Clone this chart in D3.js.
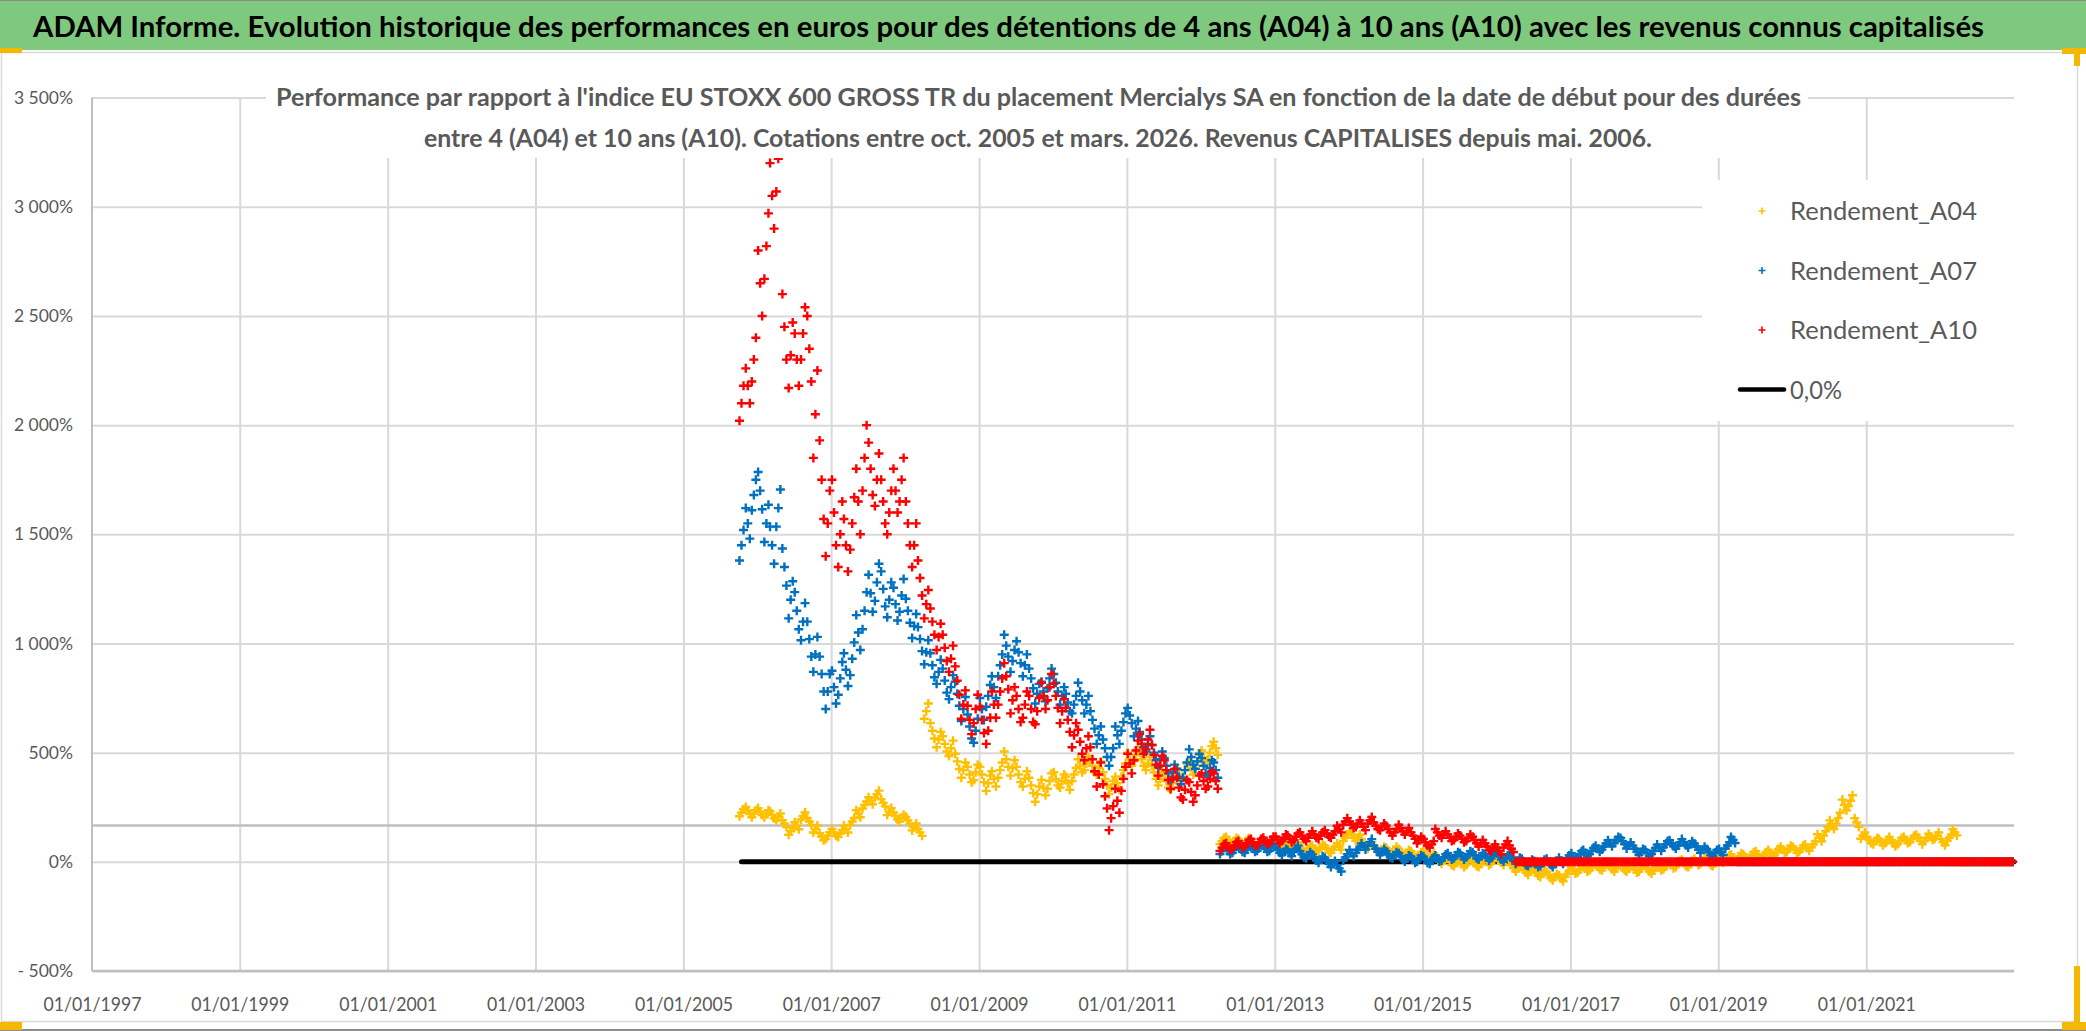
<!DOCTYPE html>
<html>
<head>
<meta charset="utf-8">
<script src="https://cdn.jsdelivr.net/npm/d3@7"></script>
<style>
    body { margin: 0; background: #fff; }
    svg text { font-family: Lato, "Open Sans", "Liberation Sans", sans-serif; }
</style>
</head>
<body>
<svg id="chart" width="2086" height="1031"></svg>
<script>
// series names and colours, monthly values (in %)
const seriesNames = ['Rendement_A04', 'Rendement_A07', 'Rendement_A10'];
const seriesColors = ['#FFC000', '#0070C0', '#FF0000'];
const firstMonth = '2005-10';

// monthly centre of each band
const a04Values = [
    225, 235, 220,                                                   // 2005
    230, 220, 215, 205, 175, 140, 165, 210, 185, 150, 115, 120,      // 2006
    135, 130, 150, 185, 220, 260, 280, 310, 270, 230, 210, 200,      // 2007
    190, 160, 135, 690, 600, 560, 540, 520, 460, 420, 400, 410,      // 2008
    400, 360, 380, 420, 470, 430, 400, 380, 350, 310, 340, 370,      // 2009
    380, 370, 360, 400, 440, 450, 440, 430, 380, 340, 360, 420,      // 2010
    470, 490, 470, 450, 410, 380, 370, 360, 400, 420, 430, 460,      // 2011
    480, 500, 520, 95, 100, 95, 90, 95, 85, 80, 85, 80,              // 2012
    75, 70, 80, 70, 60, 55, 60, 65, 60, 55, 70, 110,                 // 2013
    125, 110, 90, 75, 60, 55, 50, 55, 45, 40, 35, 30,                // 2014
    35, 25, 15, 5, 0, -5, -10, 0, -5, -10, 0, 5,                     // 2015
    10, 0, -15, -30, -35, -45, -50, -55, -60, -70, -75, -55,         // 2016
    -40, -35, -30, -25, -20, -25, -20, -30, -25, -30, -35, -30,      // 2017
    -30, -40, -25, -20, -15, -10, -5, -10, 0, 5, 0, -5,              // 2018
    10, 15, 20, 25, 20, 30, 35, 30, 40, 45, 55, 60,                  // 2019
    55, 60, 65, 80, 110, 140, 170, 200, 260, 280, 180, 120,          // 2020
    100, 95, 90, 100, 85, 95, 100, 105, 110, 95, 115, 120,           // 2021
    90, 110, 135, 0, 0, 0, 0, 0, 0, 0, 0, 0                          // 2022
];

const a07Values = [
    1450, 1550, 1680,
    1700, 1550, 1450, 1620, 1350, 1200, 1150, 1100, 1020, 950, 860, 780,
    800, 840, 880, 930, 1050, 1150, 1230, 1280, 1250, 1200, 1180, 1220,
    1150, 1080, 1020, 960, 900, 870, 830, 800, 770, 700, 620, 600,
    700, 760, 800, 900, 990, 920, 960, 900, 840, 770, 780, 840,
    820, 760, 730, 720, 780, 720, 650, 580, 520, 480, 580, 640,
    670, 610, 560, 540, 500, 470, 440, 410, 390, 420, 480, 460,
    440, 430, 420, 50, 50, 55, 60, 55, 60, 65, 60, 65,
    55, 45, 40, 60, 35, 30, 20, 10, 5, -10, -30, 20,
    40, 55, 70, 90, 60, 45, 35, 30, 25, 15, 10, 15,
    10, 5, 15, 20, 25, 30, 25, 35, 30, 25, 20, 30,
    25, 15, 20, 5, 0, -5, -10, -5, 0, -10, 5, 15,
    25, 35, 40, 50, 60, 70, 85, 100, 95, 75, 60, 45,
    40, 50, 65, 80, 85, 75, 90, 80, 70, 55, 45, 40,
    45, 75, 100, 0, 0, 0, 0, 0, 0, 0, 0, 0,
    0, 0, 0, 0, 0, 0, 0, 0, 0, 0, 0, 0,
    0, 0, 0, 0, 0, 0, 0, 0, 0, 0, 0, 0,
    0, 0, 0, 0, 0, 0, 0, 0, 0, 0, 0, 0
];

const a10Values = [
    2100, 2180, 2300,
    2650, 2820, 3050, 3220, 2450, 2320, 2300, 2420, 2350, 2050, 1750, 1550,
    1600, 1500, 1450, 1550, 1650, 1850, 1800, 1750, 1650, 1600, 1700, 1750,
    1550, 1450, 1300, 1180, 1100, 1030, 980, 930, 830, 720, 650, 700,
    650, 600, 720, 780, 850, 740, 700, 720, 700, 690, 760, 800,
    760, 690, 650, 580, 550, 520, 470, 400, 300, 200, 280, 380,
    450, 510, 540, 560, 490, 440, 420, 380, 340, 330, 320, 350,
    370, 380, 370, 65, 70, 75, 80, 85, 90, 90, 95, 100,
    100, 110, 105, 115, 120, 110, 125, 120, 130, 125, 150, 185,
    170, 175, 160, 190, 165, 160, 150, 135, 155, 140, 120, 100,
    90, 80, 135, 125, 110, 115, 105, 110, 100, 85, 70, 65,
    50, 80, 60, 0, 0, 0, 0, 0, 0, 0, 0, 0,
    0, 0, 0, 0, 0, 0, 0, 0, 0, 0, 0, 0,
    0, 0, 0, 0, 0, 0, 0, 0, 0, 0, 0, 0,
    0, 0, 0, 0, 0, 0, 0, 0, 0, 0, 0, 0,
    0, 0, 0, 0, 0, 0, 0, 0, 0, 0, 0, 0,
    0, 0, 0, 0, 0, 0, 0, 0, 0, 0, 0, 0,
    0, 0, 0, 0, 0, 0, 0, 0, 0, 0, 0, 0
];

// half height of each monthly band (daily scatter), in %
const a04Spread = [
    16, 16, 16,
    16, 16, 16, 16, 16, 16, 16, 16, 16, 16, 16, 16,
    16, 16, 16, 16, 16, 16, 16, 16, 16, 16, 16, 16,
    16, 16, 16, 35, 35, 35, 35, 35, 35, 35, 35, 35,
    35, 35, 35, 35, 35, 35, 35, 35, 35, 35, 35, 35,
    30, 30, 30, 30, 30, 30, 30, 30, 30, 30, 30, 30,
    30, 30, 30, 30, 30, 30, 30, 30, 30, 30, 30, 30,
    30, 30, 30, 14, 14, 14, 14, 14, 14, 14, 14, 14,
    14, 14, 14, 14, 14, 14, 14, 14, 14, 14, 14, 14,
    14, 14, 14, 14, 14, 14, 14, 14, 14, 14, 14, 14,
    14, 14, 14, 14, 14, 14, 14, 14, 14, 14, 14, 14,
    14, 14, 14, 14, 14, 14, 14, 14, 14, 14, 14, 14,
    14, 14, 14, 14, 14, 14, 14, 14, 14, 14, 14, 14,
    14, 14, 14, 14, 14, 14, 14, 14, 14, 14, 14, 14,
    14, 14, 14, 14, 14, 14, 14, 14, 14, 14, 14, 14,
    14, 14, 14, 14, 16, 20, 20, 25, 25, 25, 20, 14,
    14, 14, 14, 14, 14, 14, 14, 14, 14, 14, 14, 14,
    14, 14, 14, 0, 0, 0, 0, 0, 0, 0, 0, 0
];

const a07Spread = [
    70, 70, 70,
    85, 85, 85, 85, 85, 85, 85, 85, 80, 80, 80, 80,
    75, 75, 75, 75, 80, 85, 85, 85, 80, 80, 75, 75,
    55, 55, 55, 55, 55, 55, 55, 55, 55, 55, 55, 55,
    50, 50, 50, 50, 50, 50, 50, 50, 45, 45, 45, 45,
    40, 40, 40, 40, 40, 40, 40, 40, 40, 40, 40, 40,
    35, 35, 35, 35, 35, 35, 35, 35, 35, 35, 35, 35,
    35, 35, 35, 14, 14, 14, 14, 14, 14, 14, 14, 14,
    14, 14, 14, 14, 14, 14, 14, 14, 14, 14, 14, 14,
    14, 14, 14, 14, 14, 14, 14, 14, 14, 14, 14, 14,
    14, 14, 14, 14, 14, 14, 14, 14, 14, 14, 14, 14,
    14, 14, 14, 14, 14, 14, 14, 14, 14, 14, 14, 14,
    14, 14, 14, 14, 14, 14, 14, 14, 14, 14, 14, 14,
    14, 14, 14, 14, 14, 14, 14, 14, 14, 14, 14, 14,
    14, 14, 14, 0, 0, 0, 0, 0, 0, 0, 0, 0,
    0, 0, 0, 0, 0, 0, 0, 0, 0, 0, 0, 0,
    0, 0, 0, 0, 0, 0, 0, 0, 0, 0, 0, 0,
    0, 0, 0, 0, 0, 0, 0, 0, 0, 0, 0, 0
];

const a10Spread = [
    80, 80, 100,
    150, 150, 150, 150, 150, 150, 120, 120, 150, 200, 180, 150,
    150, 150, 120, 120, 150, 150, 120, 120, 100, 100, 100, 100,
    100, 100, 80, 65, 60, 60, 60, 60, 65, 65, 65, 65,
    60, 60, 60, 60, 60, 60, 60, 60, 60, 60, 60, 60,
    55, 55, 55, 55, 55, 55, 55, 55, 55, 55, 55, 55,
    45, 45, 45, 45, 45, 45, 45, 45, 45, 45, 45, 45,
    35, 35, 35, 15, 15, 15, 15, 15, 15, 15, 15, 15,
    15, 15, 15, 15, 15, 15, 15, 15, 15, 15, 15, 15,
    15, 15, 15, 15, 15, 15, 15, 15, 15, 15, 15, 15,
    15, 15, 15, 15, 15, 15, 15, 15, 15, 15, 15, 15,
    15, 15, 15, 0, 0, 0, 0, 0, 0, 0, 0, 0,
    0, 0, 0, 0, 0, 0, 0, 0, 0, 0, 0, 0,
    0, 0, 0, 0, 0, 0, 0, 0, 0, 0, 0, 0,
    0, 0, 0, 0, 0, 0, 0, 0, 0, 0, 0, 0,
    0, 0, 0, 0, 0, 0, 0, 0, 0, 0, 0, 0,
    0, 0, 0, 0, 0, 0, 0, 0, 0, 0, 0, 0,
    0, 0, 0, 0, 0, 0, 0, 0, 0, 0, 0, 0
];

// 0,0% reference line
const zeroLine = [['2005-10-15', 0], ['2023-01-01', 0]];
const crossLevel = 166;

const yTicks = [-500, 0, 500, 1000, 1500, 2000, 2500, 3000, 3500];
const xTickYears = [1997, 1999, 2001, 2003, 2005, 2007, 2009, 2011, 2013, 2015, 2017, 2019, 2021];

const titleText = "ADAM Informe. Evolution historique des performances en euros pour des détentions de 4 ans (A04) à 10 ans (A10) avec les revenus connus capitalisés";
const subtitleLines = [
    "Performance par rapport à l'indice EU STOXX 600 GROSS TR  du placement Mercialys SA en fonction de la date de début pour des durées",
    "entre 4 (A04) et 10 ans (A10). Cotations entre oct. 2005 et mars. 2026. Revenus CAPITALISES depuis mai. 2006."
];

const svg = d3.select('#chart');
const plotLeft = 92, plotRight = 2014, plotTop = 97.6, plotBottom = 971;

const x = d3.scaleTime()
    .domain([new Date(1997, 0, 1), new Date(2023, 0, 1)])
    .range([plotLeft, plotRight]);
const y = d3.scaleLinear()
    .domain([-500, 3500])
    .range([plotBottom, plotTop]);

// frame and title band
svg.append('rect').attr('x', 1.5).attr('y', 52.5).attr('width', 2076).attr('height', 969)
    .attr('fill', '#fff').attr('stroke', '#d9d9d9').attr('stroke-width', 1.5);
svg.append('rect').attr('x', 0).attr('y', 0).attr('width', 2086).attr('height', 50).attr('fill', '#7fc97f');
svg.append('line').attr('x1', 0).attr('x2', 2086).attr('y1', 0.5).attr('y2', 0.5).attr('stroke', '#8c8c8c');
svg.append('line').attr('x1', 0).attr('x2', 2086).attr('y1', 1030).attr('y2', 1030).attr('stroke', '#8c8c8c').attr('stroke-width', 2);
svg.append('text')
    .attr('x', 33).attr('y', 37)
    .attr('textLength', 1951).attr('lengthAdjust', 'spacingAndGlyphs')
    .attr('font-size', 29).attr('font-weight', 700).attr('fill', '#000')
    .text(titleText);

// yellow selection marks
[[0, 48, 22, 5], [0, 1022, 22, 8], [2062, 48, 24, 6], [2074, 48, 6, 18], [2074, 966, 6, 64], [2062, 1022, 24, 8]]
    .forEach(r => svg.append('rect').attr('x', r[0]).attr('y', r[1]).attr('width', r[2]).attr('height', r[3]).attr('fill', '#f5b800'));

// grid
svg.append('g')
    .attr('transform', `translate(${plotLeft},0)`)
    .call(d3.axisLeft(y).tickValues(yTicks).tickSize(-(plotRight - plotLeft)).tickFormat(''))
    .call(g => g.select('.domain').remove())
    .selectAll('line').attr('stroke', '#d9d9d9').attr('stroke-width', 2);

const xTicks = xTickYears.map(yr => new Date(yr, 0, 1));
svg.append('g')
    .attr('transform', `translate(0,${plotBottom})`)
    .call(d3.axisBottom(x).tickValues(xTicks.slice(1)).tickSize(-(plotBottom - plotTop)).tickFormat(''))
    .call(g => g.select('.domain').remove())
    .selectAll('line').attr('stroke', '#d9d9d9').attr('stroke-width', 2);

// axis lines
svg.append('line').attr('x1', plotLeft).attr('x2', plotLeft).attr('y1', plotTop).attr('y2', plotBottom)
    .attr('stroke', '#bfbfbf').attr('stroke-width', 2);
svg.append('line').attr('x1', plotLeft).attr('x2', plotRight).attr('y1', plotBottom).attr('y2', plotBottom)
    .attr('stroke', '#bfbfbf').attr('stroke-width', 2.5);
svg.append('line').attr('x1', plotLeft).attr('x2', plotRight).attr('y1', y(crossLevel)).attr('y2', y(crossLevel))
    .attr('stroke', '#bfbfbf').attr('stroke-width', 2.5);

// tick labels
const pct = d => (d < 0 ? '- ' : '') + d3.format(',')(Math.abs(d)).replace(/,/g, ' ') + '%';
svg.append('g')
    .attr('transform', `translate(${plotLeft},0)`)
    .call(d3.axisLeft(y).tickValues(yTicks).tickSize(0).tickPadding(19).tickFormat(pct))
    .call(g => g.select('.domain').remove())
    .selectAll('text')
    .attr('font-size', 17.5).attr('fill', '#595959').style('font-family', 'Lato, sans-serif');

svg.append('g')
    .attr('transform', `translate(0,${plotBottom})`)
    .call(d3.axisBottom(x).tickValues(xTicks).tickSize(0).tickPadding(40).tickFormat(d3.timeFormat('%d/%m/%Y')))
    .call(g => g.select('.domain').remove())
    .selectAll('text')
    .attr('dy', 0)
    .attr('font-size', 19).attr('fill', '#595959').style('font-family', 'Lato, sans-serif')
    .attr('textLength', 98).attr('lengthAdjust', 'spacingAndGlyphs');

// zero line
const line = d3.line().x(d => x(new Date(d[0]))).y(d => y(d[1]));
svg.append('path')
    .datum(zeroLine)
    .attr('d', line)
    .attr('fill', 'none').attr('stroke', '#000').attr('stroke-width', 5).attr('stroke-linecap', 'round');

// scatter series: each month gives a low, centre and high reading spread over the month
const start = d3.timeParse('%Y-%m')(firstMonth);
const plus = 'M-4.5,0H4.5M0,-4.5V4.5';
[[a04Values, a04Spread], [a07Values, a07Spread], [a10Values, a10Spread]].forEach(([values, spread], k) => {
    const pts = values.flatMap((v, i) => {
        const month = d3.timeMonth.offset(start, i);
        const band = i % 2 ? [v + spread[i], v, v - spread[i]] : [v - spread[i], v, v + spread[i]];
        return band.map((val, j) => ({ date: d3.timeDay.offset(month, 4 + j * 10), value: val }));
    });
    svg.append('g')
        .selectAll('path')
        .data(pts)
        .join('path')
        .attr('d', plus)
        .attr('transform', d => `translate(${x(d.date)},${y(d.value)})`)
        .attr('fill', 'none')
        .attr('stroke', seriesColors[k])
        .attr('stroke-width', 2.4);
});

// subtitle
svg.append('rect').attr('x', 266).attr('y', 84).attr('width', 1542).attr('height', 74).attr('fill', '#fff');
svg.append('text').attr('x', 276).attr('y', 106)
    .attr('textLength', 1525).attr('lengthAdjust', 'spacingAndGlyphs')
    .attr('font-size', 25).attr('font-weight', 700).attr('fill', '#595959')
    .text(subtitleLines[0]);
svg.append('text').attr('x', 424).attr('y', 147)
    .attr('textLength', 1228).attr('lengthAdjust', 'spacingAndGlyphs')
    .attr('font-size', 25).attr('font-weight', 700).attr('fill', '#595959')
    .text(subtitleLines[1]);

// legend
svg.append('rect').attr('x', 1702).attr('y', 180).attr('width', 312).attr('height', 241).attr('fill', '#fff');
const legend = svg.append('g');
seriesNames.forEach((name, k) => {
    const cy = 211 + k * 59.5;
    legend.append('path').attr('d', 'M-3.5,0H3.5M0,-3.5V3.5')
        .attr('transform', `translate(1762,${cy})`)
        .attr('stroke', seriesColors[k]).attr('stroke-width', 1.6).attr('fill', 'none');
    legend.append('text').attr('x', 1790).attr('y', cy + 9)
        .attr('textLength', 187).attr('lengthAdjust', 'spacingAndGlyphs')
        .attr('font-size', 25).attr('fill', '#595959')
        .text(name);
});
legend.append('line').attr('x1', 1740).attr('x2', 1784).attr('y1', 389.5).attr('y2', 389.5)
    .attr('stroke', '#000').attr('stroke-width', 4.5).attr('stroke-linecap', 'round');
legend.append('text').attr('x', 1790).attr('y', 398.5)
    .attr('textLength', 52).attr('lengthAdjust', 'spacingAndGlyphs')
    .attr('font-size', 25).attr('fill', '#595959')
    .text('0,0%');
</script>
</body>
</html>
